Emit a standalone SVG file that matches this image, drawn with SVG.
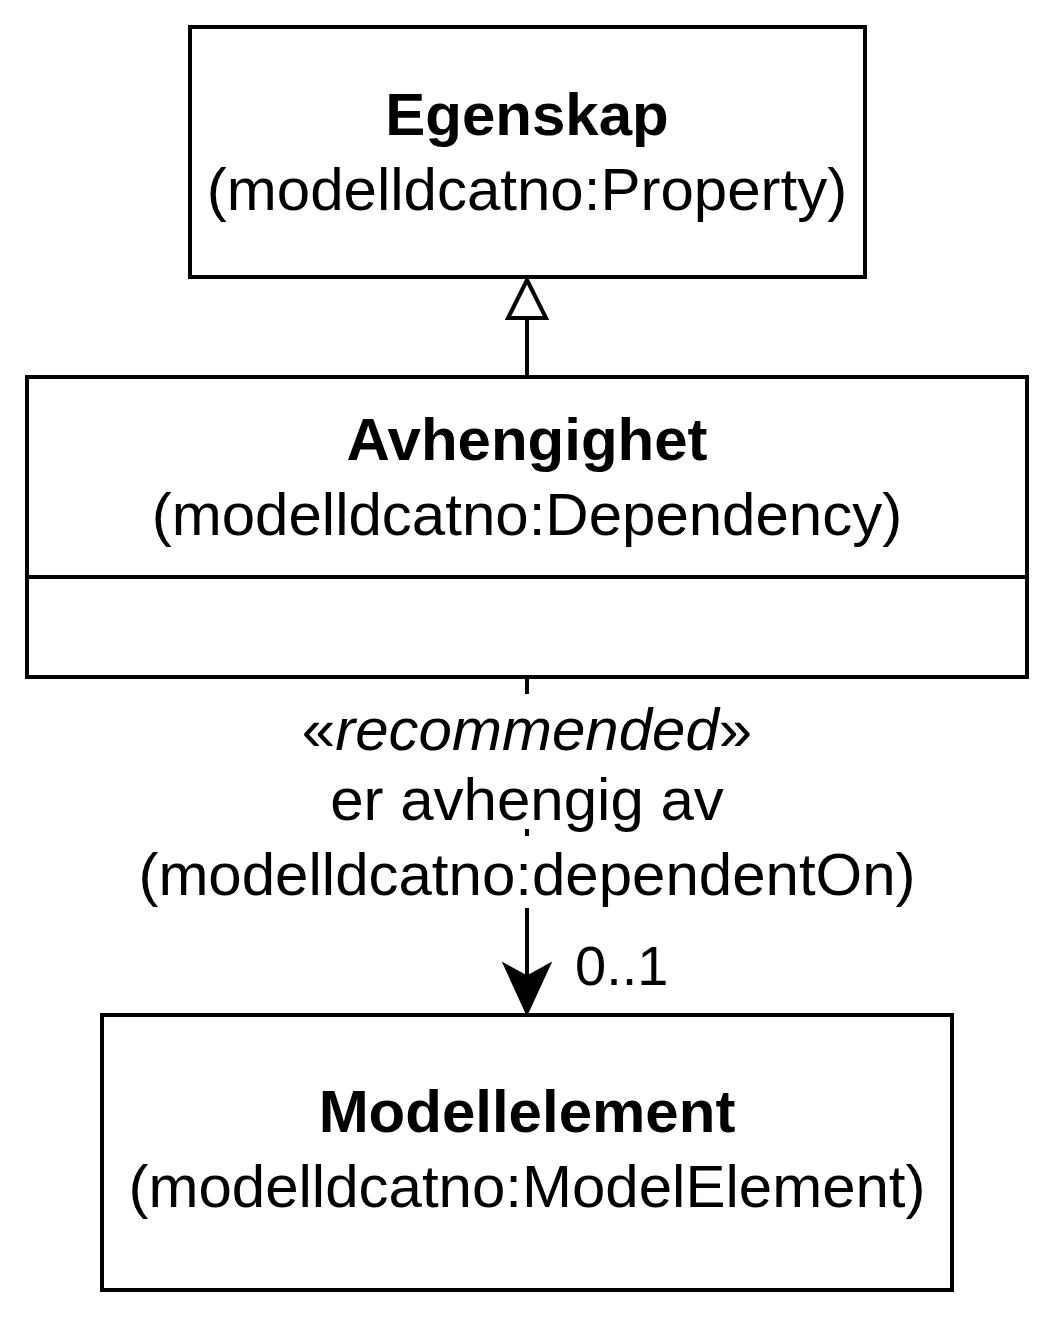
<svg xmlns="http://www.w3.org/2000/svg" width="1055" height="1320" viewBox="0 0 1055 1320">
<style>
.b{fill:#fff;stroke:#000;stroke-width:4}
text{font-family:"Liberation Sans",Arial,sans-serif;font-size:60px;text-anchor:middle;fill:#000}
.t{font-weight:bold}
.l{stroke:#000;stroke-width:4;fill:none}
</style>
<rect width="1055" height="1320" fill="#fff"/>
<g id="connectors">
<line class="l" x1="527" y1="377" x2="527" y2="318"/>
<polygon points="527,280 546,318 508,318" fill="#fff" stroke="#000" stroke-width="4"/>
<line class="l" x1="527" y1="677" x2="527" y2="1000"/>
<polygon points="527,1013 505,965 527,977 549,965" fill="#000" stroke="#000" stroke-width="3"/>
<rect x="120" y="694" width="815" height="135" fill="#fff"/>
<rect x="120" y="836" width="815" height="72" fill="#fff"/>
<text x="527" y="750">«<tspan font-style="italic">recommended</tspan>»</text>
<text x="527" y="820">er avhengig av</text>
<text x="527" y="895">(modelldcatno:dependentOn)</text>
<text x="575" y="985" style="text-anchor:start;font-size:56px">0..1</text>
</g>
<g id="egenskap">
<rect class="b" x="190" y="27" width="675" height="250"/>
<text class="t" x="527" y="135">Egenskap</text>
<text x="527" y="210">(modelldcatno:Property)</text>
</g>
<g id="avhengighet">
<rect class="b" x="27" y="377" width="1000" height="300"/>
<line class="l" x1="27" y1="577" x2="1027" y2="577"/>
<text class="t" x="527" y="460">Avhengighet</text>
<text x="527" y="535">(modelldcatno:Dependency)</text>
</g>
<g id="modellelement">
<rect class="b" x="102" y="1015" width="850" height="275"/>
<text class="t" x="527" y="1132">Modellelement</text>
<text x="527" y="1207">(modelldcatno:ModelElement)</text>
</g>
</svg>
